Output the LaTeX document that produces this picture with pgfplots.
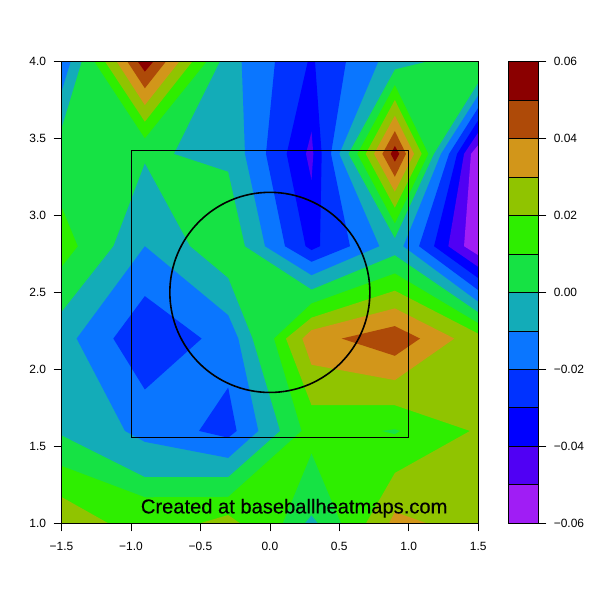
\documentclass[border=0pt]{standalone}
\usepackage{fontspec}
\setmainfont{Liberation Sans}
\newfontfamily\stampfont[FakeBold=0.25]{Liberation Sans}
\usepackage{pgfplots}
\pgfplotsset{compat=1.18}

\definecolor{cRed}{HTML}{8B0000}
\definecolor{cBrown}{HTML}{AE4A08}
\definecolor{cOrange}{HTML}{D2961A}
\definecolor{cOlive}{HTML}{90C400}
\definecolor{cLime}{HTML}{2EEE00}
\definecolor{cGreen}{HTML}{16E244}
\definecolor{cTeal}{HTML}{13ACB8}
\definecolor{cBlue}{HTML}{0A76FF}
\definecolor{cBlueB}{HTML}{0032FF}
\definecolor{cBlueC}{HTML}{0000FF}
\definecolor{cIndigo}{HTML}{5000F4}
\definecolor{cPurple}{HTML}{A01DF5}

\newcommand{\band}[2]{\addplot[fill=#1,draw=none] coordinates {#2} -- cycle;}

\pgfplotsset{
  common/.style={
    scale only axis,
    tick align=outside,
    major tick length=8bp,
    tick style={black,line width=0.7bp},
    axis line style={line width=0.7bp},
    tick label style={font=\fontsize{12}{12}\selectfont},
    axis on top,
    clip=true,
  },
}

\begin{document}
\begin{tikzpicture}[x=1bp,y=1bp]
\path[use as bounding box] (0,0) rectangle (600,600);

\begin{axis}[
  common,
  at={(61.5bp,76.7bp)}, anchor=south west,
  width=416.7bp, height=461.8bp,
  xmin=-1.5, xmax=1.5, ymin=1, ymax=4,
  xtick={-1.5,-1,-0.5,0,0.5,1,1.5},
  xticklabels={−1.5,−1.0,−0.5,0.0,0.5,1.0,1.5},
  ytick={1,1.5,2,2.5,3,3.5,4},
  yticklabels={1.0,1.5,2.0,2.5,3.0,3.5,4.0},
  xtick pos=bottom, ytick pos=left,
  xticklabel style={yshift=-7.5bp},
  yticklabel style={xshift=-4bp},
]
% 0.00 to 0.01 is the background band
\band{cGreen}{(-1.5,1)(1.5,1)(1.5,4)(-1.5,4)}

% 0.01 to 0.02
\band{cLime}{(-1.264,4)(-0.455,4)(-0.9,3.501)}
\band{cLime}{(-1.5,3.056)(-1.383,2.8)(-1.5,2.666)}
\band{cLime}{(0.9,3.847)(1.141,3.4)(0.9,2.948)(0.63,3.4)}
\band{cLime}{(-1.5,1.373)(-0.9,1.169)(-0.3,1.171)(0.229,1.6)(0.03,2.2)(0.3,2.428)(0.9,2.623)(1.5,2.30)(1.5,1)(-1.5,1)}
\band{cGreen}{(0.9,1.611)(0.937,1.6)(0.9,1.579)(0.805,1.6)}
\band{cGreen}{(0.093,1)(0.3,1.453)(0.512,1)}

% 0.02 to 0.03
\band{cOlive}{(-1.187,4)(-0.558,4)(-0.9,3.609)}
\band{cOlive}{(0.9,3.75)(1.093,3.4)(0.9,3.05)(0.69,3.4)}
\band{cOlive}{(0.116,2.2)(0.3,2.336)(0.9,2.511)(1.5,2.232)(1.5,1)(0.692,1)(0.9,1.327)(1.441,1.6)(0.9,1.767)(0.3,1.767)}
\band{cOlive}{(-1.5,1.171)(-1.163,1)(-1.5,1)}
\band{cOlive}{(-0.503,1)(-0.3,1.054)(-0.215,1)}

% 0.03 to 0.04
\band{cOrange}{(-1.103,4)(-0.652,4)(-0.9,3.717)}
\band{cOrange}{(0.9,3.648)(1.038,3.4)(0.9,3.154)(0.75,3.4)}
\band{cOrange}{(0.234,2.2)(0.3,2.255)(0.9,2.396)(1.328,2.2)(0.9,1.93)(0.3,2.03)}
\band{cOrange}{(0.858,1)(0.9,1.074)(1.129,1)}

% 0.04 to 0.05
\band{cBrown}{(-1.026,4)(-0.748,4)(-0.9,3.826)}
\band{cBrown}{(0.9,3.548)(0.98,3.4)(0.9,3.251)(0.81,3.4)}
\band{cBrown}{(0.517,2.2)(0.9,2.281)(1.081,2.2)(0.9,2.088)}

% 0.05 to 0.06
\band{cRed}{(-0.951,4)(-0.839,4)(-0.9,3.934)}
\band{cRed}{(0.9,3.451)(0.932,3.4)(0.9,3.349)(0.87,3.4)}

% -0.01 to 0.00
\band{cTeal}{(-1.5,4)(-1.355,4)(-1.5,3.566)}
\band{cTeal}{(-1.5,2.372)(-1.126,2.8)(-0.9,3.338)(-0.575,2.8)(-0.3,2.593)(-0.125,2.2)(0.073,1.6)(-0.3,1.301)(-0.9,1.301)(-1.5,1.572)}
\band{cTeal}{(-0.359,4)(1.132,4)(0.9,3.949)(0.565,3.4)(0.9,2.851)(1.182,3.4)(1.5,3.86)(1.5,2.372)(0.9,2.742)(0.3,2.519)(-0.179,2.8)(-0.3,3.284)(-0.69,3.4)}
\band{cTeal}{(0.253,1)(0.3,1.052)(0.345,1)}

% -0.02 to -0.01
\band{cBlue}{(-1.5,4)(-1.434,4)(-1.5,3.804)}
\band{cBlue}{(-0.203,4)(0.781,4)(0.5,3.4)(0.788,2.8)(0.3,2.612)(-0.035,2.8)(-0.179,3.4)}
\band{cBlue}{(1.5,3.78)(1.232,3.4)(0.961,2.8)(1.5,2.44)}
\band{cBlue}{(-0.9,2.8)(-0.3,2.352)(-0.227,2.2)(-0.083,1.6)(-0.3,1.425)(-0.9,1.529)(-1.043,1.6)(-1.391,2.2)}

% -0.03 to -0.02
\band{cBlueB}{(0.037,4)(0.548,4)(0.44,3.4)(0.577,2.8)(0.3,2.699)(0.109,2.8)(-0.028,3.4)}
\band{cBlueB}{(1.5,3.699)(1.29,3.4)(1.074,2.8)(1.5,2.515)}
\band{cBlueB}{(-0.9,2.476)(-0.491,2.2)(-0.9,1.869)(-1.127,2.2)}
\band{cBlueB}{(-0.3,1.882)(-0.239,1.6)(-0.3,1.556)(-0.51,1.6)}

% -0.04 to -0.03
\band{cBlueC}{(0.273,4)(0.325,4)(0.373,3.4)(0.361,2.8)(0.3,2.775)(0.257,2.8)(0.121,3.4)}
\band{cBlueC}{(1.5,3.618)(1.348,3.4)(1.182,2.8)(1.5,2.593)}

% -0.05 to -0.04
\band{cIndigo}{(0.3,3.544)(0.313,3.4)(0.3,3.23)(0.26,3.4)}
\band{cIndigo}{(1.5,3.538)(1.398,3.4)(1.285,2.8)(1.5,2.666)}

% -0.06 to -0.05
\band{cPurple}{(1.5,3.457)(1.448,3.4)(1.398,2.8)(1.5,2.742)}

% strike zone and circle
\addplot[black,line width=0.7bp] coordinates {(-1,1.56)(1,1.56)(1,3.425)(-1,3.425)} -- cycle;
\draw[black,line width=1.6bp] (axis cs:0,2.5) ellipse [x radius=0.72, y radius=0.65];

\node[font=\stampfont\fontsize{20.2}{22}\selectfont,black] at (axis cs:0.175,1.098) {Created at baseballheatmaps.com};
\end{axis}

% colour key
\begin{axis}[
  common,
  at={(508.3bp,76.7bp)}, anchor=south west,
  width=30bp, height=461.8bp,
  xmin=0, xmax=1, ymin=-0.06, ymax=0.06,
  xtick=\empty,
  ytick={-0.06,-0.04,-0.02,0,0.02,0.04,0.06},
  yticklabels={−0.06,−0.04,−0.02,0.00,0.02,0.04,0.06},
  ytick pos=right, yticklabel pos=right,
  scaled y ticks=false,
  yticklabel style={xshift=4bp},
]
\addplot[fill=cPurple,draw=black,line width=0.7bp] coordinates {(0,-0.06)(1,-0.06)(1,-0.05)(0,-0.05)} -- cycle;
\addplot[fill=cIndigo,draw=black,line width=0.7bp] coordinates {(0,-0.05)(1,-0.05)(1,-0.04)(0,-0.04)} -- cycle;
\addplot[fill=cBlueC,draw=black,line width=0.7bp] coordinates {(0,-0.04)(1,-0.04)(1,-0.03)(0,-0.03)} -- cycle;
\addplot[fill=cBlueB,draw=black,line width=0.7bp] coordinates {(0,-0.03)(1,-0.03)(1,-0.02)(0,-0.02)} -- cycle;
\addplot[fill=cBlue,draw=black,line width=0.7bp] coordinates {(0,-0.02)(1,-0.02)(1,-0.01)(0,-0.01)} -- cycle;
\addplot[fill=cTeal,draw=black,line width=0.7bp] coordinates {(0,-0.01)(1,-0.01)(1,0)(0,0)} -- cycle;
\addplot[fill=cGreen,draw=black,line width=0.7bp] coordinates {(0,0)(1,0)(1,0.01)(0,0.01)} -- cycle;
\addplot[fill=cLime,draw=black,line width=0.7bp] coordinates {(0,0.01)(1,0.01)(1,0.02)(0,0.02)} -- cycle;
\addplot[fill=cOlive,draw=black,line width=0.7bp] coordinates {(0,0.02)(1,0.02)(1,0.03)(0,0.03)} -- cycle;
\addplot[fill=cOrange,draw=black,line width=0.7bp] coordinates {(0,0.03)(1,0.03)(1,0.04)(0,0.04)} -- cycle;
\addplot[fill=cBrown,draw=black,line width=0.7bp] coordinates {(0,0.04)(1,0.04)(1,0.05)(0,0.05)} -- cycle;
\addplot[fill=cRed,draw=black,line width=0.7bp] coordinates {(0,0.05)(1,0.05)(1,0.06)(0,0.06)} -- cycle;
\end{axis}
\end{tikzpicture}
\end{document}
